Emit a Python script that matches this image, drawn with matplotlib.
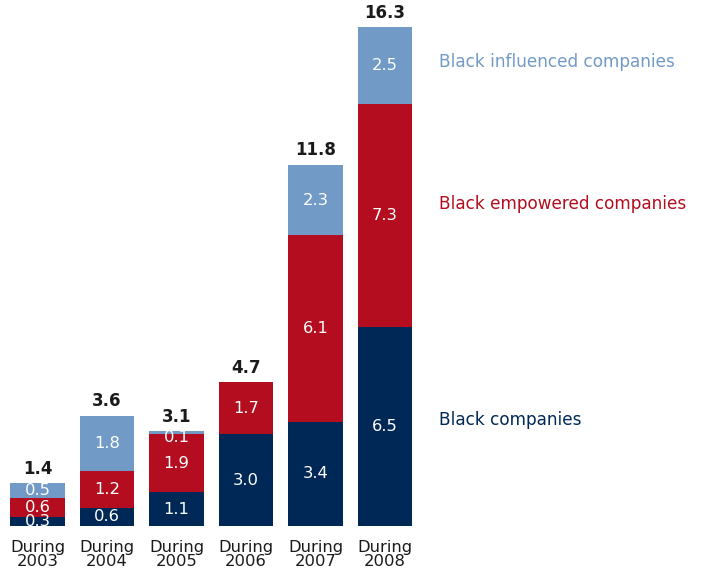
import matplotlib
matplotlib.use("Agg")
import matplotlib.pyplot as plt

years = ["During\n2003", "During\n2004", "During\n2005", "During\n2006", "During\n2007", "During\n2008"]
black_companies = [0.3, 0.6, 1.1, 3.0, 3.4, 6.5]
black_empowered = [0.6, 1.2, 1.9, 1.7, 6.1, 7.3]
black_influenced = [0.5, 1.8, 0.1, 0.0, 2.3, 2.5]
totals = [1.4, 3.6, 3.1, 4.7, 11.8, 16.3]
series_names = ["Black companies", "Black empowered companies", "Black influenced companies"]

NAVY = "#002856"
RED = "#b30d1f"
LIGHT = "#729ac6"
colors = [NAVY, RED, LIGHT]

plt.rcParams["font.family"] = ["DejaVu Sans"]

fig = plt.figure(figsize=(7.06, 5.75), dpi=100)
ax = fig.add_axes([0, 0, 1, 1])
ax.set_xlim(-0.5396, 9.619)
ax.set_ylim(-1.601, 17.19)
ax.axis("off")

x = list(range(len(years)))
width = 0.791
bottom = [0.0] * len(years)
for series, col in zip([black_companies, black_empowered, black_influenced], colors):
    ax.bar(x, series, width=width, bottom=bottom, color=col, linewidth=0)
    for i, v in enumerate(series):
        if v > 0:
            top = bottom[i] + v
            y = bottom[i] + v / 2
            if v < 0.3:
                y = top - 0.22
            ax.text(x[i], y, f"{v:.1f}", ha="center", va="center",
                    color="white", fontsize=11.8)
    bottom = [b + v for b, v in zip(bottom, series)]

for i, t in enumerate(totals):
    ax.text(x[i], t + 0.18, f"{t:.1f}", ha="center", va="bottom",
            fontsize=12, fontweight="bold", color="#1a1a1a")

for i, lab in enumerate(years):
    ax.text(x[i], -0.46, lab, ha="center", va="top", fontsize=11.8,
            color="#1a1a1a", linespacing=0.9)

# series names beside the last bar
label_y = [3.46, 10.52, 15.16]
for name, col, y in zip(series_names, colors, label_y):
    ax.text(5.778, y, name, ha="left", va="center", fontsize=12.2, color=col)

fig.savefig("out.png", dpi=100)
